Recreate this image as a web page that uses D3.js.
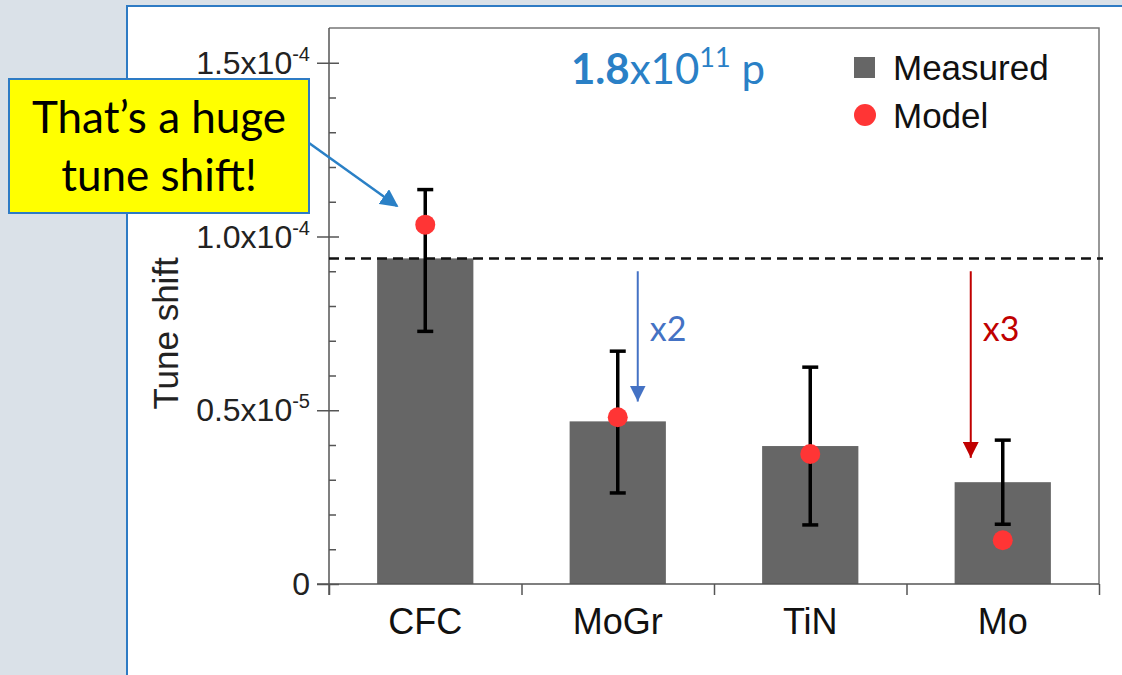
<!DOCTYPE html>
<html>
<head>
<meta charset="utf-8">
<script src="https://cdn.jsdelivr.net/npm/d3@7"></script>
<style>
  body { margin: 0; background: #dae1e8; }
  svg { display: block; }
</style>
</head>
<body>
<script>
const width = 1122;
const height = 675;

// data (units of 1e-4)
const materials = ["CFC", "MoGr", "TiN", "Mo"];
const measured = [0.937, 0.468, 0.397, 0.293];
const errLow = [0.727, 0.262, 0.170, 0.172];
const errHigh = [1.135, 0.670, 0.624, 0.414];
const model = [1.034, 0.480, 0.374, 0.126];
const majorTicks = [0, 0.5, 1.0, 1.5];
const majorLabels = [["0", ""], ["0.5x10", "-5"], ["1.0x10", "-4"], ["1.5x10", "-4"]];
const minorTicks = d3.range(1, 16).map(d => d / 10).filter(d => d % 0.5 > 0.01 && d % 0.5 < 0.49);

// reduction arrows: material, offset from bar centre, from value, to value, label
const reductions = [
    { cat: "MoGr", dx: 20, from: 0.90, to: 0.525, label: "x2", color: "#4472c4" },
    { cat: "Mo", dx: -32, from: 0.90, to: 0.363, label: "x3", color: "#c00000" }
];

const plot = { left: 329, right: 1099, top: 28, bottom: 584 };
const font = "Liberation Sans, Arial, sans-serif";

const svg = d3.select("body").append("svg")
    .attr("width", width)
    .attr("height", height);

// slide panel
svg.append("rect")
    .attr("x", 127).attr("y", 6)
    .attr("width", width).attr("height", height)
    .attr("fill", "#fff")
    .attr("stroke", "#2e7bc4")
    .attr("stroke-width", 2);

const x = d3.scaleBand()
    .domain(materials)
    .range([plot.left, plot.right])
    .paddingInner(0.5)
    .paddingOuter(0.25);

const y = d3.scaleLinear()
    .domain([0, 1.6])
    .range([plot.bottom, plot.top]);

const xEdge = d3.scaleLinear().domain([0, materials.length]).range([plot.left, plot.right]);

// bars
svg.append("g").selectAll("rect")
    .data(materials)
    .enter().append("rect")
    .attr("x", d => x(d))
    .attr("width", x.bandwidth())
    .attr("y", (d, i) => y(measured[i]))
    .attr("height", (d, i) => y(0) - y(measured[i]))
    .attr("fill", "#666");

// frame (top + right)
svg.append("path")
    .attr("d", `M${plot.left},${plot.top}H${plot.right}V${plot.bottom}`)
    .attr("fill", "none")
    .attr("stroke", "#777")
    .attr("stroke-width", 1.5);

// y axis
const yAxis = svg.append("g")
    .attr("transform", `translate(${plot.left},0)`)
    .call(d3.axisLeft(y).tickValues(majorTicks).tickSize(12).tickFormat(""));
svg.append("g")
    .attr("transform", `translate(${plot.left},0)`)
    .call(d3.axisRight(y).tickValues(majorTicks).tickSize(10).tickFormat(""))
    .call(g => g.select(".domain").remove());
svg.append("g")
    .attr("transform", `translate(${plot.left},0)`)
    .call(d3.axisRight(y).tickValues(minorTicks).tickSize(7).tickFormat(""))
    .call(g => g.select(".domain").remove());
svg.selectAll(".tick line").attr("stroke", "#555").attr("stroke-width", 1.5);
yAxis.select(".domain").attr("stroke", "#555").attr("stroke-width", 1.5)
    .attr("d", `M0,${plot.bottom + 11}V${plot.top}`);

// y tick labels with superscript
svg.append("g").selectAll("text")
    .data(majorTicks)
    .enter().append("text")
    .attr("x", plot.left - 19)
    .attr("y", d => y(d) + 11)
    .attr("text-anchor", "end")
    .attr("font-family", font)
    .attr("font-size", 32)
    .attr("fill", "#222")
    .each(function (d, i) {
        const t = d3.select(this);
        t.append("tspan").text(majorLabels[i][0]);
        if (majorLabels[i][1]) {
            t.append("tspan").attr("dy", -13).attr("font-size", 20).text(majorLabels[i][1]);
        }
    });

// x axis
svg.append("g")
    .attr("transform", `translate(0,${plot.bottom})`)
    .call(d3.axisBottom(xEdge).ticks(materials.length).tickSize(11).tickFormat(""))
    .call(g => g.select(".domain").attr("d", `M${plot.left - 12},0H${plot.right}`))
    .call(g => g.selectAll("line, path").attr("stroke", "#555").attr("stroke-width", 1.5));

svg.append("g")
    .attr("transform", `translate(0,${plot.bottom})`)
    .call(d3.axisBottom(x).tickSize(0).tickPadding(24))
    .call(g => g.select(".domain").remove())
    .call(g => g.selectAll("text")
        .attr("font-family", font)
        .attr("font-size", 36)
        .attr("fill", "#111"));

// y axis title
svg.append("text")
    .attr("transform", `translate(178,${(y(0.5) + y(1.0)) / 2 + 10}) rotate(-90)`)
    .attr("text-anchor", "middle")
    .attr("font-family", font)
    .attr("font-size", 35)
    .attr("fill", "#222")
    .text("Tune shift");

// dashed reference at CFC measured level
svg.append("line")
    .attr("x1", plot.left).attr("x2", plot.right + 4)
    .attr("y1", y(measured[0])).attr("y2", y(measured[0]))
    .attr("stroke", "#111")
    .attr("stroke-width", 2.5)
    .attr("stroke-dasharray", "10,6");

// error bars
const eb = svg.append("g").attr("stroke", "#000").attr("stroke-width", 3.5);
materials.forEach((m, i) => {
    const cx = x(m) + x.bandwidth() / 2;
    eb.append("line").attr("x1", cx).attr("x2", cx).attr("y1", y(errLow[i])).attr("y2", y(errHigh[i]));
    eb.append("line").attr("x1", cx - 8).attr("x2", cx + 8).attr("y1", y(errLow[i])).attr("y2", y(errLow[i]));
    eb.append("line").attr("x1", cx - 8).attr("x2", cx + 8).attr("y1", y(errHigh[i])).attr("y2", y(errHigh[i]));
});

// model points
svg.append("g").selectAll("circle")
    .data(materials)
    .enter().append("circle")
    .attr("cx", d => x(d) + x.bandwidth() / 2)
    .attr("cy", (d, i) => y(model[i]))
    .attr("r", 10)
    .attr("fill", "#ff3535");

// legend
const legend = svg.append("g").attr("font-family", font).attr("font-size", 35).attr("fill", "#111");
legend.append("rect").attr("x", 854).attr("y", 57).attr("width", 21).attr("height", 21).attr("fill", "#666");
legend.append("text").attr("x", 893).attr("y", 80).text("Measured");
legend.append("circle").attr("cx", 865).attr("cy", 115).attr("r", 11).attr("fill", "#ff3535");
legend.append("text").attr("x", 893).attr("y", 128).text("Model");

// bunch intensity
const inten = svg.append("text")
    .attr("x", 571).attr("y", 84)
    .attr("font-family", "Lato, sans-serif")
    .attr("font-size", 42)
    .attr("fill", "#2a80c6");
inten.append("tspan").attr("font-weight", "bold").text("1.8");
inten.append("tspan").text("x10");
inten.append("tspan").attr("dy", -17).attr("font-size", 27).text("11");
inten.append("tspan").attr("dy", 17).text(" p");

// reduction arrows
const defs = svg.append("defs");
reductions.forEach((r, i) => {
    defs.append("marker")
        .attr("id", "arr" + i)
        .attr("viewBox", "0 0 10 10")
        .attr("refX", 10).attr("refY", 5)
        .attr("markerWidth", 16).attr("markerHeight", 16)
        .attr("markerUnits", "userSpaceOnUse")
        .attr("orient", "auto")
        .append("path").attr("d", "M0,0L10,5L0,10z").attr("fill", r.color);
    const ax = x(r.cat) + x.bandwidth() / 2 + r.dx;
    svg.append("line")
        .attr("x1", ax).attr("x2", ax)
        .attr("y1", y(r.from)).attr("y2", y(r.to))
        .attr("stroke", r.color)
        .attr("stroke-width", 2)
        .attr("marker-end", `url(#arr${i})`);
    svg.append("text")
        .attr("x", ax + 12).attr("y", 341)
        .attr("font-family", "Lato, sans-serif")
        .attr("font-size", 34)
        .attr("fill", r.color)
        .text(r.label);
});

// callout
defs.append("marker")
    .attr("id", "callArr")
    .attr("viewBox", "0 0 10 10")
    .attr("refX", 9).attr("refY", 5)
    .attr("markerWidth", 18).attr("markerHeight", 18)
    .attr("markerUnits", "userSpaceOnUse")
    .attr("orient", "auto")
    .append("path").attr("d", "M0,0L10,5L0,10z").attr("fill", "#2a80c6");
svg.append("line")
    .attr("x1", 309).attr("y1", 143)
    .attr("x2", 397).attr("y2", 206)
    .attr("stroke", "#2a80c6")
    .attr("stroke-width", 2.5)
    .attr("marker-end", "url(#callArr)");
svg.append("rect")
    .attr("x", 9).attr("y", 79)
    .attr("width", 300).attr("height", 134)
    .attr("fill", "#ffff00")
    .attr("stroke", "#2e7bc4")
    .attr("stroke-width", 2);
const callout = svg.append("text")
    .attr("text-anchor", "middle")
    .attr("font-family", "Lato, sans-serif")
    .attr("font-size", 44)
    .attr("fill", "#000");
callout.append("tspan").attr("x", 159).attr("y", 133).text("That’s a huge");
callout.append("tspan").attr("x", 159).attr("y", 191).text("tune shift!");
</script>
</body>
</html>
